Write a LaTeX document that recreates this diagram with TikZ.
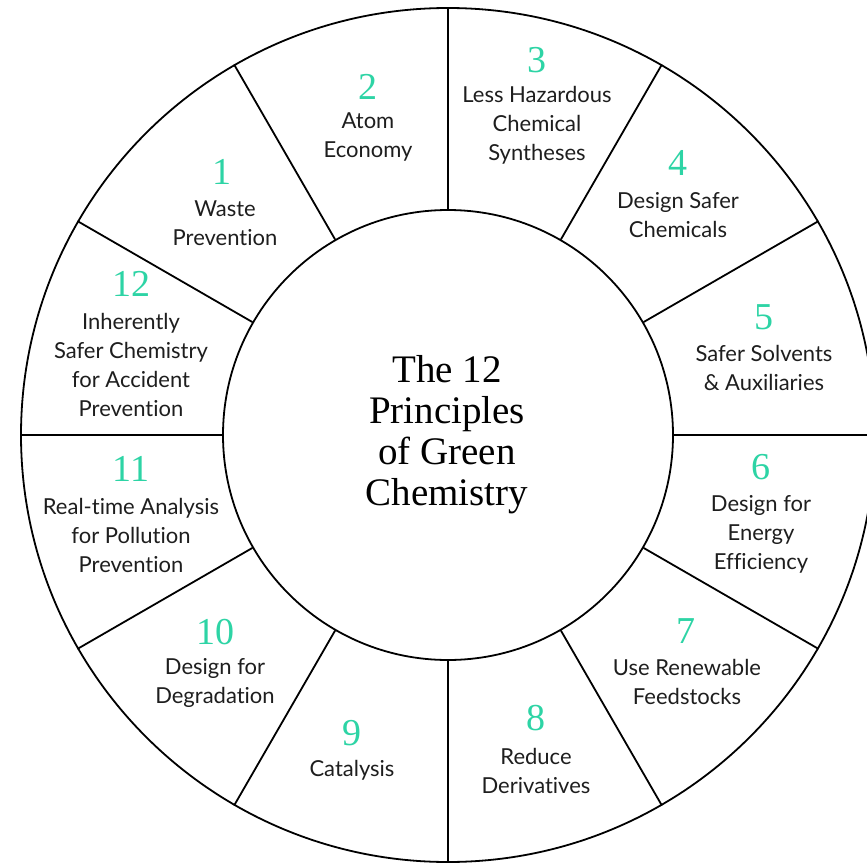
\documentclass[tikz,border=0pt]{standalone}
\usepackage{fontspec}
\newfontfamily\labfont[Ligatures=NoCommon]{Lato}
\newfontfamily\serfont{Liberation Serif}
\definecolor{teal1}{RGB}{45,212,165}
\definecolor{ink}{RGB}{30,30,30}
\begin{document}
\begin{tikzpicture}[x=1pt,y=-1pt,
  ring/.style={circle,draw=black,line width=1.8pt,inner sep=0pt},
  spoke/.style={draw=black,line width=1.8pt},
  num/.style={text=teal1,font=\serfont\fontsize{38}{40}\selectfont,inner sep=0pt},
  lab/.style={text=ink,font=\labfont\fontsize{22}{29}\selectfont,align=center,inner sep=0pt},
  ttl/.style={text=black,font=\serfont\fontsize{39}{41}\selectfont,align=center,inner sep=0pt}]
\useasboundingbox (0,0) rectangle (867,864);
\clip (0,0) rectangle (867,864);
\fill[white] (0,0) rectangle (867,864);
\node[ring,minimum size=854pt] (o) at (448,435) {};
\node[ring,minimum size=450pt] (c) at (448,435) {};
\foreach \a in {0,30,...,330}{\draw[spoke] (c.\a) -- (o.\a);}
\node[ttl] (title) at (447,435) {The 12\\Principles\\of Green\\Chemistry};
% 1
\node[num] (n1) at (222,172) {1};
\node[lab] (t1) at (225,223) {Waste\\Prevention};
% 2
\node[num] (n2) at (368,87) {2};
\node[lab] (t2) at (368,137) {Atom\\Economy};
% 3
\node[num] (n3) at (537,60) {3};
\node[lab] (t3) at (537,125) {Less Hazardous\\Chemical\\Syntheses};
% 4
\node[num] (n4) at (678,163) {4};
\node[lab] (t4) at (678,215) {Design Safer\\Chemicals};
% 5
\node[num] (n5) at (764,317) {5};
\node[lab] (t5) at (764,368) {Safer Solvents\\\& Auxiliaries};
% 6
\node[num] (n6) at (761,467) {6};
\node[lab] (t6) at (761,534) {Design for\\Energy\\Efficiency};
% 7
\node[num] (n7) at (686,631) {7};
\node[lab] (t7) at (687,682) {Use Renewable\\Feedstocks};
% 8
\node[num] (n8) at (536,718) {8};
\node[lab] (t8) at (536,771) {Reduce\\Derivatives};
% 9
\node[num] (n9) at (352,733) {9};
\node[lab] (t9) at (352,770) {Catalysis};
% 10
\node[num] (n10) at (215,632) {10};
\node[lab] (t10) at (215,683) {Design for\\Degradation};
% 11
\node[num] (n11) at (131,469) {11};
\node[lab] (t11) at (131,535) {Real-time Analysis\\for Pollution\\Prevention};
% 12
\node[num] (n12) at (131,284) {12};
\node[lab] (t12) at (131,365) {Inherently\\Safer Chemistry\\for Accident\\Prevention};
\end{tikzpicture}
\end{document}
